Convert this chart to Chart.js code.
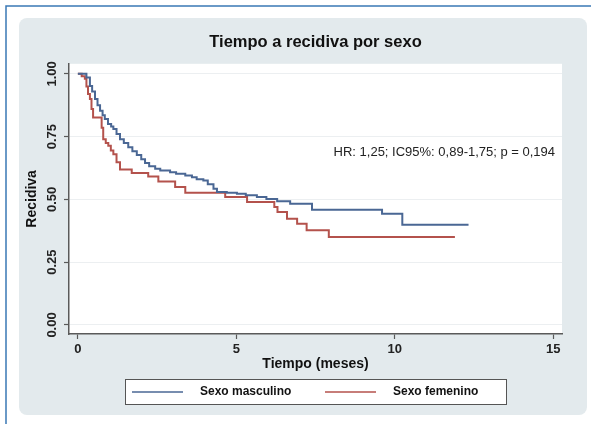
<!DOCTYPE html>
<html>
<head>
<meta charset="utf-8">
<script src="https://cdn.jsdelivr.net/npm/chart.js@4/dist/chart.umd.min.js"></script>
<style>
  html, body { margin: 0; padding: 0; background: #fff; }
  #wrap { width: 591px; height: 424px; }
</style>
</head>
<body>
<div id="wrap"><canvas id="km" width="591" height="424"></canvas></div>
<script>
const maleTime = [0, 0.27, 0.38, 0.45, 0.54, 0.62, 0.7, 0.78, 0.85, 0.95, 1.05, 1.12, 1.22, 1.33, 1.45, 1.59, 1.72, 1.86, 2.0, 2.12, 2.25, 2.44, 2.6, 2.91, 3.1, 3.39, 3.6, 3.75, 3.96, 4.1, 4.28, 4.39, 4.7, 5.02, 5.3, 5.65, 5.95, 6.29, 6.7, 7.39, 9.6, 10.24, 12.33];
const maleSurv = [1, 0.985, 0.952, 0.93, 0.9, 0.875, 0.853, 0.835, 0.82, 0.8, 0.79, 0.78, 0.76, 0.74, 0.725, 0.708, 0.692, 0.677, 0.66, 0.645, 0.632, 0.622, 0.615, 0.608, 0.602, 0.595, 0.588, 0.58, 0.575, 0.56, 0.542, 0.529, 0.526, 0.523, 0.517, 0.51, 0.502, 0.493, 0.483, 0.459, 0.443, 0.399, 0.399];

const femaleTime = [0, 0.12, 0.22, 0.27, 0.32, 0.38, 0.43, 0.48, 0.75, 0.8, 0.88, 0.96, 1.04, 1.12, 1.22, 1.33, 1.7, 2.22, 2.54, 3.07, 3.39, 4.65, 5.34, 6.2, 6.3, 6.6, 6.92, 7.22, 7.92, 11.9];
const femaleSurv = [1, 0.99, 0.98, 0.95, 0.92, 0.9, 0.86, 0.826, 0.785, 0.74, 0.725, 0.714, 0.695, 0.68, 0.648, 0.619, 0.605, 0.591, 0.571, 0.549, 0.526, 0.51, 0.49, 0.47, 0.45, 0.423, 0.403, 0.377, 0.35, 0.35];

const seriesNames = ["Sexo masculino", "Sexo femenino"];
const xTicks = [0, 5, 10, 15];
const yTicks = [0, 0.25, 0.5, 0.75, 1];
const noteText = "HR: 1,25; IC95%: 0,89-1,75; p = 0,194";

const font = "'Liberation Sans', Arial, sans-serif";
const axisColor = "#5a5a5a";
const blue = "#4a6794";
const red = "#b4524c";

function toPoints(xs, ys) {
  return xs.map((x, i) => ({ x: x, y: ys[i] }));
}

const frame = {
  id: "frame",
  beforeDraw(chart) {
    const ctx = chart.ctx;
    const a = chart.chartArea;
    ctx.save();
    ctx.fillStyle = "#fff";
    ctx.fillRect(0, 0, chart.width, chart.height);
    // blue page frame
    ctx.strokeStyle = "#3a78b5";
    ctx.lineWidth = 1.5;
    ctx.beginPath();
    ctx.moveTo(6, 424);
    ctx.lineTo(6, 6);
    ctx.lineTo(591, 6);
    ctx.stroke();
    // grey panel
    ctx.fillStyle = "#e3eaed";
    ctx.beginPath();
    ctx.roundRect(19, 18, 568, 397, 8);
    ctx.fill();
    // plot region
    ctx.fillStyle = "#fff";
    ctx.fillRect(a.left, a.top, a.right - a.left, a.bottom - a.top);
    ctx.restore();
  },
  afterDraw(chart) {
    const ctx = chart.ctx;
    const xs = chart.scales.x;
    const ys = chart.scales.y;
    ctx.save();
    // note
    ctx.fillStyle = "#222";
    ctx.font = "13px " + font;
    ctx.textBaseline = "middle";
    ctx.textAlign = "left";
    ctx.fillText(noteText, xs.getPixelForValue(8.07), ys.getPixelForValue(0.687));
    // legend
    const bx = 125, by = 379, bw = 381, bh = 25;
    ctx.fillStyle = "#fff";
    ctx.fillRect(bx, by, bw, bh);
    ctx.strokeStyle = "#555";
    ctx.lineWidth = 1;
    ctx.strokeRect(bx + 0.5, by + 0.5, bw, bh);
    const cy = by + bh / 2 + 0.5;
    const starts = [132, 325];
    chart.data.datasets.forEach((ds, i) => {
      const x0 = starts[i];
      ctx.strokeStyle = ds.borderColor;
      ctx.lineWidth = 1.5;
      ctx.beginPath();
      ctx.moveTo(x0, cy);
      ctx.lineTo(x0 + 51, cy);
      ctx.stroke();
      ctx.fillStyle = "#111";
      ctx.font = "bold 12px " + font;
      ctx.fillText(ds.label, x0 + 68, cy);
    });
    ctx.restore();
  }
};

new Chart(document.getElementById("km"), {
  type: "scatter",
  data: {
    datasets: [
      {
        label: seriesNames[0],
        data: toPoints(maleTime, maleSurv),
        showLine: true,
        stepped: "before",
        borderColor: blue,
        borderWidth: 2,
        pointRadius: 0
      },
      {
        label: seriesNames[1],
        data: toPoints(femaleTime, femaleSurv),
        showLine: true,
        stepped: "before",
        borderColor: red,
        borderWidth: 2,
        pointRadius: 0
      }
    ]
  },
  options: {
    responsive: false,
    animation: false,
    events: [],
    layout: {
      padding: { left: 20, right: 29, top: 20, bottom: 50 }
    },
    plugins: {
      legend: { display: false },
      tooltip: { enabled: false },
      title: {
        display: true,
        fullSize: false,
        text: "Tiempo a recidiva por sexo",
        color: "#111",
        font: { family: font, size: 16.5, weight: "bold" },
        padding: { top: 13, bottom: 11 }
      }
    },
    scales: {
      x: {
        type: "linear",
        min: -0.28,
        max: 15.28,
        afterFit: s => { s.height = 40; },
        afterBuildTicks: s => { s.ticks = xTicks.map(v => ({ value: v })); },
        border: { color: axisColor, width: 1.5 },
        grid: { drawOnChartArea: false, tickLength: 5, tickColor: axisColor, tickWidth: 1.2 },
        ticks: {
          color: "#222",
          padding: 3,
          font: { family: font, size: 13, weight: "bold" },
          callback: v => String(v)
        },
        title: {
          display: true,
          text: "Tiempo (meses)",
          color: "#111",
          font: { family: font, size: 14, weight: "bold" },
          padding: { top: 0, bottom: 1 }
        }
      },
      y: {
        type: "linear",
        min: -0.036,
        max: 1.04,
        afterFit: s => { s.width = 49; },
        afterBuildTicks: s => { s.ticks = yTicks.map(v => ({ value: v })); },
        border: { color: axisColor, width: 1.5 },
        grid: { color: "#eceff1", lineWidth: 1, tickLength: 5, tickColor: axisColor, tickWidth: 1.2 },
        ticks: {
          color: "#222",
          padding: -1,
          minRotation: 90,
          maxRotation: 90,
          crossAlign: "center",
          font: { family: font, size: 13, weight: "bold" },
          callback: v => Number(v).toFixed(2)
        },
        title: {
          display: true,
          text: "Recidiva",
          color: "#111",
          font: { family: font, size: 14, weight: "bold" },
          padding: { top: 4, bottom: 0 }
        }
      }
    }
  },
  plugins: [frame]
});
</script>
</body>
</html>
